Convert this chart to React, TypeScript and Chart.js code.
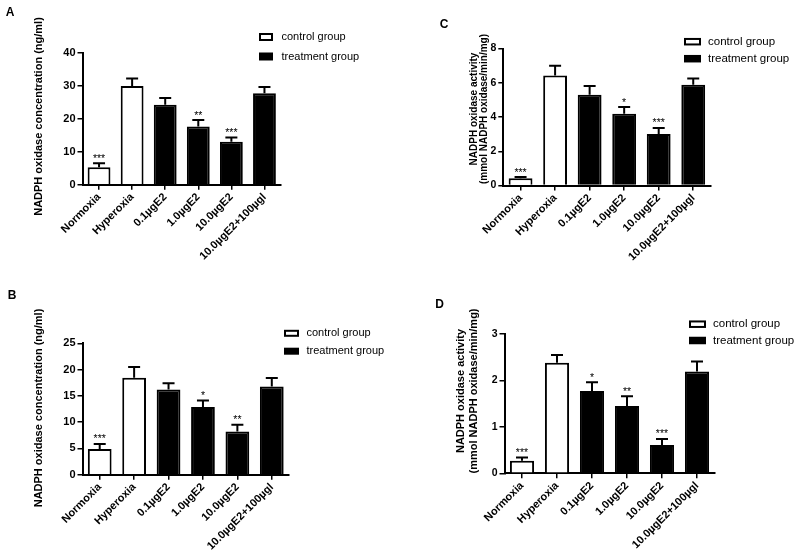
import React, { useEffect, useRef } from "react";
import { Chart, registerables } from "chart.js";

Chart.register(...registerables);

// ---------------- data ----------------
const categories = ["Normoxia", "Hyperoxia", "0.1µgE2", "1.0µgE2", "10.0µgE2", "10.0µgE2+100µgl"];
const groups = ["control", "control", "treatment", "treatment", "treatment", "treatment"];
const legendLabels = ["control group", "treatment group"];

const aMeans = [5.3, 29.9, 24.2, 17.6, 13.0, 27.7];
const aErrors = [1.2, 2.3, 2.1, 2.0, 1.3, 1.9];
const aStars = ["***", "", "", "**", "***", ""];
const aTicks = [0, 10, 20, 30, 40];

const bMeans = [4.9, 18.45, 16.2, 12.9, 8.2, 16.8];
const bErrors = [0.95, 2.05, 1.2, 1.2, 1.3, 1.6];
const bStars = ["***", "", "", "*", "**", ""];
const bTicks = [0, 5, 10, 15, 20, 25];

const cMeans = [0.43, 6.43, 5.3, 4.19, 3.01, 5.88];
const cErrors = [0.06, 0.56, 0.51, 0.39, 0.35, 0.37];
const cStars = ["***", "", "", "*", "***", ""];
const cTicks = [0, 2, 4, 6, 8];

const dMeans = [0.27, 2.38, 1.77, 1.45, 0.61, 2.19];
const dErrors = [0.07, 0.17, 0.19, 0.21, 0.13, 0.22];
const dStars = ["***", "", "*", "**", "***", ""];
const dTicks = [0, 1, 2, 3];

const concTitle = ["NADPH oxidase concentration (ng/ml)"];
const activityTitle = ["NADPH oxidase activity", "(mmol NADPH oxidase/min/mg)"];

// ---------------- layout (panel-local positions / styles only) ----------------
const FONT = "'Liberation Sans', Arial, Helvetica, sans-serif";

const panels = [
  {
    letter: "A", means: aMeans, errors: aErrors, stars: aStars, ticks: aTicks, title: concTitle,
    x: 0, y: 0, w: 400, h: 270,
    area: { l: 82.5, r: 281, t: 52.7, b: 184.7 },
    letterPos: [10, 13], titleX: [39], titleY: 116.5, titleSize: 11,
    legend: { x: 259, w: 14, h: 8, rows: [37, 56.5], tx: 281.5, size: 11 },
    tickSize: 11,
  },
  {
    letter: "B", means: bMeans, errors: bErrors, stars: bStars, ticks: bTicks, title: concTitle,
    x: 0, y: 270, w: 400, h: 285,
    area: { l: 82.5, r: 289, t: 73.3, b: 204.7 },
    letterPos: [12, 26], titleX: [39], titleY: 138, titleSize: 11,
    legend: { x: 284, w: 15, h: 7, rows: [63.3, 81.2], tx: 306.5, size: 11 },
    tickSize: 11,
  },
  {
    letter: "C", means: cMeans, errors: cErrors, stars: cStars, ticks: cTicks, title: activityTitle,
    x: 400, y: 0, w: 400, h: 270,
    area: { l: 103.3, r: 310.5, t: 48.5, b: 185.5 },
    letterPos: [44, 25], titleX: [74, 84], titleY: 109, titleSize: 10,
    legend: { x: 284, w: 17, h: 7.5, rows: [41.7, 58.7], tx: 308, size: 11.5 },
    tickSize: 10.5,
  },
  {
    letter: "D", means: dMeans, errors: dErrors, stars: dStars, ticks: dTicks, title: activityTitle,
    x: 400, y: 270, w: 400, h: 285,
    area: { l: 104.5, r: 314.5, t: 64, b: 203.3 },
    letterPos: [39.5, 35], titleX: [61, 74], titleY: 121, titleSize: 11,
    legend: { x: 289, w: 17, h: 7.5, rows: [54.2, 70.5], tx: 313, size: 11.5 },
    tickSize: 10.5,
  },
];

const decorPlugin = {
  id: "decor",
  afterDatasetsDraw(chart: any, _args: any, opts: any) {
    const ctx = chart.ctx;
    const meta = chart.getDatasetMeta(0);
    const ys = chart.scales.y;
    const data = chart.data.datasets[0].data;
    ctx.save();
    ctx.strokeStyle = "#000";
    ctx.fillStyle = "#000";
    ctx.lineWidth = 2;
    meta.data.forEach((bar: any, i: number) => {
      const x = bar.x;
      const yb = ys.getPixelForValue(data[i]);
      const yt = ys.getPixelForValue(data[i] + opts.errors[i]);
      ctx.beginPath();
      ctx.moveTo(x, yb);
      ctx.lineTo(x, yt);
      ctx.moveTo(x - 6, yt);
      ctx.lineTo(x + 6, yt);
      ctx.stroke();
      if (opts.stars[i]) {
        ctx.font = `10.5px ${FONT}`;
        ctx.textAlign = "center";
        ctx.textBaseline = "alphabetic";
        ctx.fillText(opts.stars[i], x, yt - 1.5);
      }
    });
    ctx.restore();
  },
  afterDraw(chart: any, _args: any, opts: any) {
    const ctx = chart.ctx;
    ctx.save();
    ctx.fillStyle = "#000";
    // panel letter
    ctx.font = `bold 12px ${FONT}`;
    ctx.textAlign = "center";
    ctx.textBaseline = "middle";
    ctx.fillText(opts.letter, opts.letterPos[0], opts.letterPos[1]);
    // y title
    ctx.font = `bold ${opts.titleSize}px ${FONT}`;
    opts.title.forEach((line: string, i: number) => {
      ctx.save();
      ctx.translate(opts.titleX[i], opts.titleY);
      ctx.rotate(-Math.PI / 2);
      ctx.textAlign = "center";
      ctx.textBaseline = "middle";
      ctx.fillText(line, 0, 0);
      ctx.restore();
    });
    // legend
    const lg = opts.legend;
    ctx.font = `${lg.size}px ${FONT}`;
    ctx.textAlign = "left";
    ctx.textBaseline = "middle";
    lg.rows.forEach((cy: number, i: number) => {
      if (i === 0) {
        ctx.fillStyle = "#fff";
        ctx.fillRect(lg.x, cy - lg.h / 2, lg.w, lg.h);
        ctx.strokeStyle = "#000";
        ctx.lineWidth = 2;
        ctx.strokeRect(lg.x + 1, cy - lg.h / 2 + 1, lg.w - 2, lg.h - 2);
      } else {
        ctx.fillStyle = "#000";
        ctx.fillRect(lg.x, cy - lg.h / 2, lg.w, lg.h);
      }
      ctx.fillStyle = "#000";
      ctx.fillText(opts.legendLabels[i], lg.tx, cy);
    });
    ctx.restore();
  },
};

function Panel({ cfg }: { cfg: any }) {
  const ref = useRef<HTMLCanvasElement | null>(null);
  useEffect(() => {
    if (!ref.current) return;
    const { area, w, h } = cfg;
    const max = cfg.ticks[cfg.ticks.length - 1];
    const step = cfg.ticks[1] - cfg.ticks[0];
    const chart = new Chart(ref.current, {
      type: "bar",
      data: {
        labels: categories,
        datasets: [
          {
            data: cfg.means,
            backgroundColor: groups.map((g) => (g === "control" ? "#ffffff" : "#000000")),
            borderColor: "#000000",
            borderWidth: 2,
            borderSkipped: "bottom",
            barPercentage: 0.69,
            categoryPercentage: 1,
          },
        ],
      },
      options: {
        responsive: false,
        maintainAspectRatio: false,
        animation: false,
        devicePixelRatio: 1,
        layout: { padding: { left: 0, top: area.t, right: w - area.r, bottom: 0 } },
        plugins: {
          legend: { display: false },
          tooltip: { enabled: false },
          title: { display: false },
          decor: {
            errors: cfg.errors,
            stars: cfg.stars,
            letter: cfg.letter,
            letterPos: cfg.letterPos,
            title: cfg.title,
            titleX: cfg.titleX,
            titleY: cfg.titleY,
            titleSize: cfg.titleSize,
            legend: cfg.legend,
            legendLabels,
          },
        } as any,
        scales: {
          x: {
            type: "category",
            offset: true,
            grid: {
              display: true,
              offset: false,
              drawOnChartArea: false,
              drawTicks: true,
              tickLength: 5,
              color: "#000",
              lineWidth: 1.5,
            },
            border: { display: true, color: "#000", width: 2 },
            ticks: {
              color: "#000",
              font: { family: FONT, size: 11, weight: "bold" },
              minRotation: 45,
              maxRotation: 45,
              autoSkip: false,
              padding: 1,
            },
            afterFit: (s: any) => {
              s.height = h - area.b;
            },
          },
          y: {
            min: 0,
            max: max,
            grid: {
              display: true,
              drawOnChartArea: false,
              drawTicks: true,
              tickLength: 5,
              color: "#000",
              lineWidth: 1.5,
            },
            border: { display: true, color: "#000", width: 2 },
            ticks: {
              stepSize: step,
              color: "#000",
              font: { family: FONT, size: cfg.tickSize, weight: "bold" },
              padding: 2,
            },
            afterFit: (s: any) => {
              s.width = area.l;
            },
          },
        },
      } as any,
      plugins: [decorPlugin as any],
    });
    return () => chart.destroy();
  }, [cfg]);
  return (
    <div style={{ position: "absolute", left: cfg.x, top: cfg.y, width: cfg.w, height: cfg.h }}>
      <canvas ref={ref} width={cfg.w} height={cfg.h} style={{ width: cfg.w, height: cfg.h, display: "block" }} />
    </div>
  );
}

export default function App() {
  return (
    <div style={{ position: "absolute", left: 0, top: 0, width: 800, height: 555, background: "#fff" }}>
      {panels.map((p) => (
        <Panel key={p.letter} cfg={p} />
      ))}
    </div>
  );
}
